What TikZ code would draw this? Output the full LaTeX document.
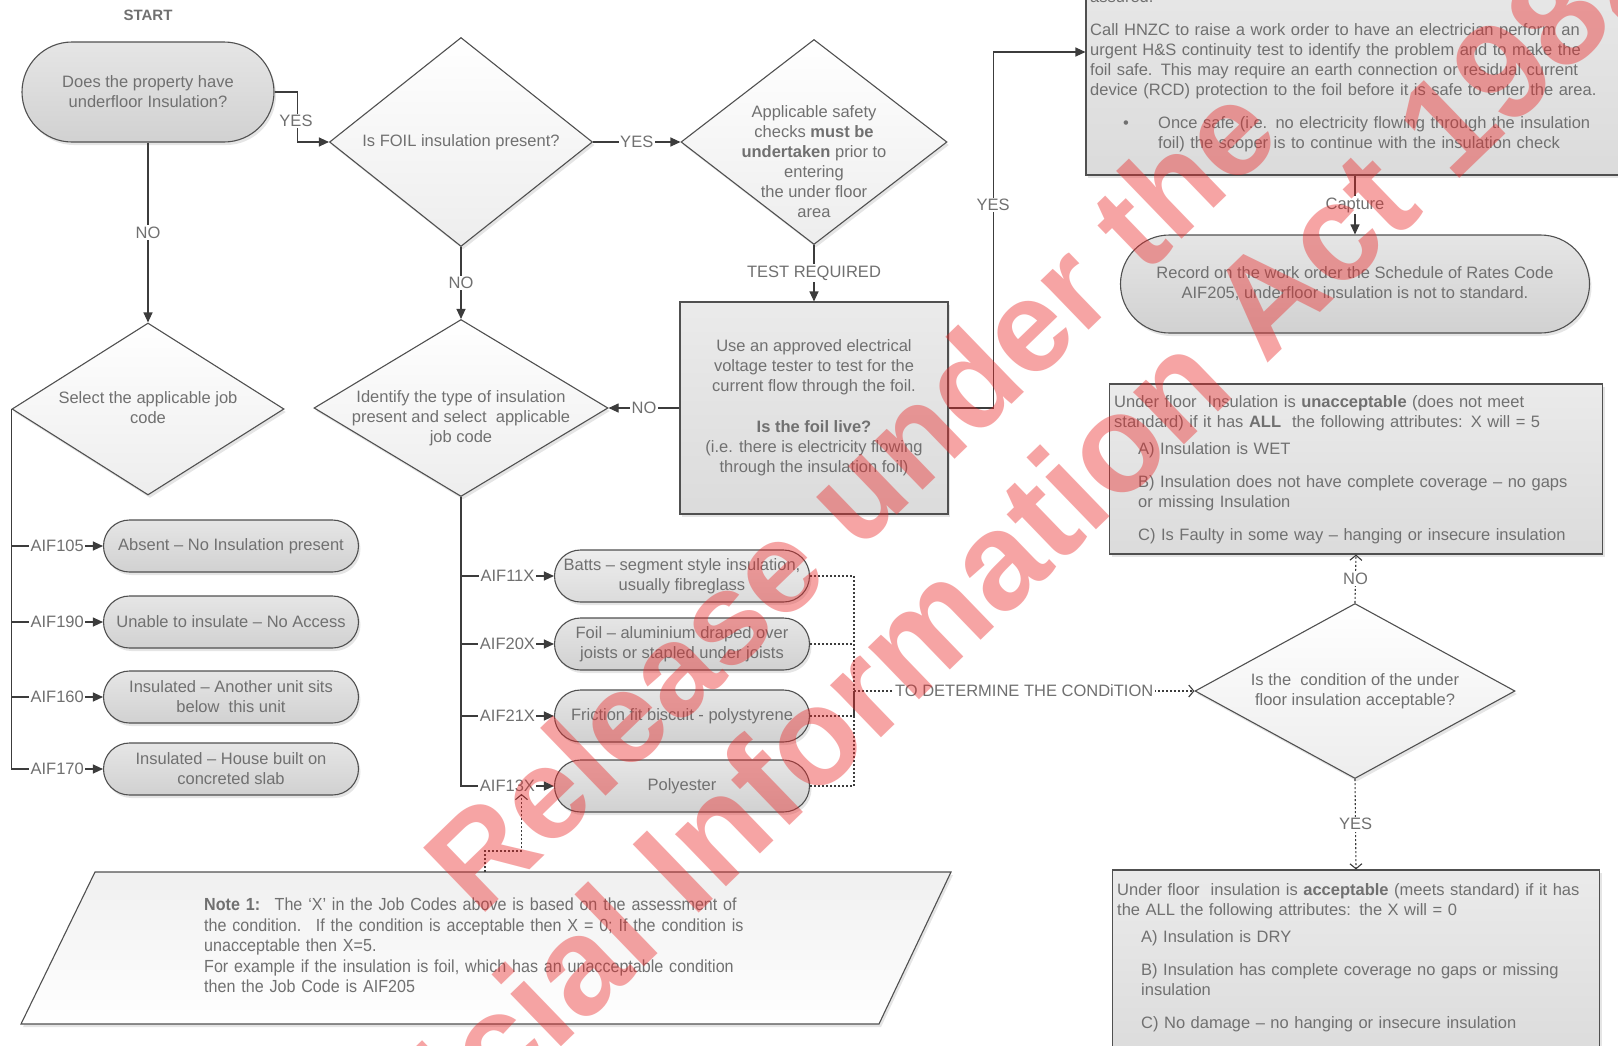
\documentclass[tikz,border=0pt]{standalone}
\usepackage{fontspec}
\setmainfont{Liberation Sans}
\newfontfamily\notefont[FakeStretch=0.92]{Liberation Sans}
\usetikzlibrary{shapes.geometric,arrows.meta,shadows}
\definecolor{txtgray}{RGB}{112,112,112}
\definecolor{linegray}{RGB}{80,80,80}
\definecolor{arrowgray}{RGB}{60,60,60}
\definecolor{wmred}{RGB}{235,40,40}
\newcommand{\bodysize}{\fontsize{16.5}{20}\selectfont}

\begin{document}
\begin{tikzpicture}[x=1pt, y=-1pt, >={Triangle[length=10pt,width=9pt]},
    every node/.style={font=\bodysize, text=txtgray},
    dropsh/.style={drop shadow={opacity=0.2, shadow xshift=2pt, shadow yshift=-3pt}},
    term/.style={rectangle, rounded corners=#1, draw=linegray, line width=1.1pt, top color=gray!20, bottom color=gray!36, minimum width=255pt, minimum height=2*#1, inner sep=2pt, align=center, dropsh},
    term/.default=26pt,
    decision/.style={diamond, draw=linegray, line width=1.1pt, top color=white, bottom color=gray!14, inner sep=0pt, dropsh},
    procbox/.style={rectangle, draw=linegray, line width=1.1pt, top color=gray!16, bottom color=gray!28, inner sep=0pt, dropsh},
    flow/.style={draw=arrowgray, line width=1.1pt, ->},
    dotline/.style={draw=arrowgray, line width=1.1pt, dash pattern=on 2pt off 2pt},
    dotflow/.style={dotline, -{Straight Barb[length=5pt,width=12pt]}},
    lbl/.style={fill=white, inner sep=1.5pt},
    wmark/.style={text=wmred, text opacity=0.42, font=\fontsize{130}{150}\selectfont\bfseries, rotate=44, inner sep=0pt}]

\fill[white] (0,0) rectangle (1618,1045);
\useasboundingbox (0,0) rectangle (1618,1045);

\node[font=\fontsize{15}{18}\selectfont\bfseries] (startlbl) at (148,15) {START};
\node[term=50pt, minimum width=252pt] (start) at (148,92) {Does the property have\\underfloor Insulation?};

\node[decision, minimum width=263pt, minimum height=209pt] (foil) at (461,142) {};
\node (foilt) at (foil) {Is FOIL insulation present?};
\node[decision, minimum width=266pt, minimum height=205pt] (safety) at (814,142) {};
\node[align=center] (safetyt) at (814,162) {Applicable safety\\checks \textbf{must be}\\\textbf{undertaken} prior to\\entering\\the under floor\\area};
\node[procbox, minimum width=268pt, minimum height=212pt] (test) at (814,408) {};
\node[align=center] (testt) at (test) {Use an approved electrical\\voltage tester to test for the\\current flow through the foil.\\[21pt]\textbf{Is the foil live?}\\(i.e. there is electricity flowing\\through the insulation foil)};

\node[decision, minimum width=272pt, minimum height=172pt] (select) at (148,409) {};
\node[align=center] (selectt) at (148,408) {Select the applicable job\\code};
\node[decision, minimum width=294pt, minimum height=177pt] (identify) at (461,408) {};
\node[align=center] (identifyt) at (461,418) {Identify the type of insulation\\present and select~ applicable\\job code};

\node[term] (absent) at (231,546) {Absent – No Insulation present};
\node[term] (noaccess) at (231,622) {Unable to insulate – No Access};
\node[term] (unitbelow) at (231,697) {Insulated – Another unit sits\\below~ this unit};
\node[term] (slab) at (231,769) {Insulated – House built on\\concreted slab};

\node[term, top color=gray!14, bottom color=gray!28] (batts) at (682,576) {Batts – segment style insulation,\\usually fibreglass};
\node[term] (foiltype) at (682,644) {Foil – aluminium draped over\\joists or stapled under joists};
\node[term] (biscuit) at (682,716) {Friction fit biscuit - polystyrene};
\node[term] (polyester) at (682,786) {Polyester};

\node[procbox, minimum width=538pt, minimum height=246pt] (hnzc) at (1355,52) {};
\node[anchor=north west, align=left, text width=560pt, inner sep=0pt] (hnzct) at (1090,-10) {assured.\\[13pt]Call HNZC to raise a work order to have an electrician perform an\\urgent H\&S continuity test to identify the problem and to make the\\foil safe. This may require an earth connection or residual current\\device (RCD) protection to the foil before it is safe to enter the area.\\[13pt]\hspace*{33pt}\makebox[35pt][l]{\textbullet}Once safe (i.e. no electricity flowing through the insulation\\\hspace*{68pt}foil) the scoper is to continue with the insulation check};

\node[term=49pt, minimum width=469pt] (record) at (1355,284) {Record on the work order the Schedule of Rates Code\\AIF205, underfloor insulation is not to standard.};

\node[procbox, minimum width=493pt, minimum height=170pt] (unacc) at (1356,469) {};
\node[anchor=north west, align=left, text width=500pt, inner sep=0pt] (unacct) at (1114,395) {Under floor~ Insulation is \textbf{unacceptable} (does not meet\\standard) if it has \textbf{ALL}~ the following attributes: X will = 5\\[7pt]\hspace*{24pt}A) Insulation is WET\\[13pt]\hspace*{24pt}B) Insulation does not have complete coverage – no gaps\\\hspace*{24pt}or missing Insulation\\[13pt]\hspace*{24pt}C) Is Faulty in some way – hanging or insecure insulation};

\node[decision, minimum width=320pt, minimum height=175pt] (cond) at (1355,691) {};
\node[align=center] (condt) at (cond) {Is the~ condition of the under\\floor insulation acceptable?};

\node[procbox, minimum width=487pt, minimum height=190pt] (acc) at (1356,965) {};
\node[anchor=north west, align=left, text width=500pt, inner sep=0pt] (acct) at (1117,883) {Under floor~ insulation is \textbf{acceptable} (meets standard) if it has\\the ALL the following attributes: the X will = 0\\[7pt]\hspace*{24pt}A) Insulation is DRY\\[13pt]\hspace*{24pt}B) Insulation has complete coverage no gaps or missing\\\hspace*{24pt}insulation\\[13pt]\hspace*{24pt}C) No damage – no hanging or insecure insulation};

\draw[draw=linegray, line width=1.1pt, top color=gray!12, bottom color=white, dropsh] (95,872) -- (951,872) -- (879,1024) -- (21,1024) -- cycle;
\coordinate (notetop) at (485,872);
\node[anchor=north west, align=left, text width=640pt, inner sep=0pt, font=\notefont\fontsize{17.5}{20.5}\selectfont] (notet) at (204,898) {\textbf{Note 1:}~ The ‘X’ in the Job Codes above is based on the assessment of\\the condition.~ If the condition is acceptable then X = 0; If the condition is\\unacceptable then X=5.\\For example if the insulation is foil, which has an unacceptable condition\\then the Job Code is AIF205};

\draw[flow] (start.east) -- ++(23,0) |- (foil.west);
\node[lbl] (yes1) at (296,121) {YES};
\draw[flow] (start.south) -- (select.north) node[lbl, midway] (no1) {NO};
\draw[flow] (foil.east) -- (safety.west) node[lbl, midway] (yes2) {YES};
\draw[flow] (foil.south) -- (identify.north) node[lbl, midway] (no2) {NO};
\draw[flow] (safety.south) -- (test.north) node[lbl, midway] (testreq) {TEST REQUIRED};
\draw[flow] (test.west) -- (identify.east) node[lbl, midway] (no3) {NO};
\draw[flow] (test.east) -- ++(45,0) |- (hnzc.west);
\node[lbl] (yes3) at (993,205) {YES};
\draw[flow] (hnzc.south) -- (record.north) node[lbl, midway] (capture) {Capture};

\draw[flow] (select.west |- absent.west) -- (absent.west) node[lbl, midway] (c105) {AIF105};
\draw[flow] (select.west |- noaccess.west) -- (noaccess.west) node[lbl, midway] (c190) {AIF190};
\draw[flow] (select.west |- unitbelow.west) -- (unitbelow.west) node[lbl, midway] (c160) {AIF160};
\draw[flow] (select.west) |- (slab.west) node[lbl, pos=0.75] (c170) {AIF170};

\draw[flow] (identify.south |- batts.west) -- (batts.west) node[lbl, midway] (c11) {AIF11X};
\draw[flow] (identify.south |- foiltype.west) -- (foiltype.west) node[lbl, midway] (c20) {AIF20X};
\draw[flow] (identify.south |- biscuit.west) -- (biscuit.west) node[lbl, midway] (c21) {AIF21X};
\draw[flow] (identify.south) |- (polyester.west) node[lbl, pos=0.75] (c13) {AIF13X};

\coordinate (collect) at (854,691);
\draw[dotline] (batts.east) -| (collect);
\draw[dotline] (foiltype.east) -| (collect);
\draw[dotline] (biscuit.east) -| (collect);
\draw[dotline] (polyester.east) -| (collect);
\draw[dotflow] (collect) -- (cond.west) node[lbl, midway] (determine) {TO DETERMINE THE CONDiTION};
\draw[dotflow] (cond.north) -- (unacc.south) node[lbl, midway] (no4) {NO};
\draw[dotflow] (cond.south) -- (acc.north) node[lbl, midway] (yes4) {YES};
\draw[dotflow] (notetop) -- ++(0,-21) -| ([xshift=14pt]c13.south);

\node[wmark] (wm1) at (850,496) {Release under the};
\node[wmark, font=\fontsize{138}{150}\selectfont\bfseries] (wm2) at (967,586) {Official Information Act 1982};
\end{tikzpicture}
\end{document}
